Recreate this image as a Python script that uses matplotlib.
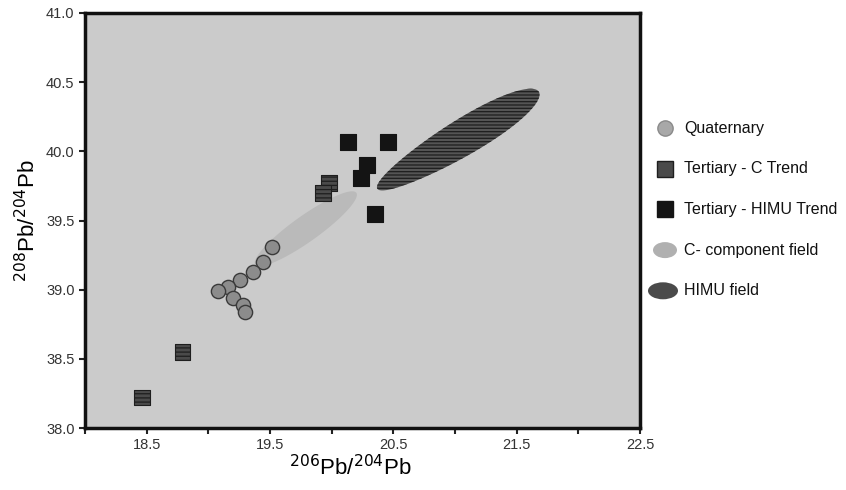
import numpy as np
import matplotlib
matplotlib.use("Agg")
import matplotlib.pyplot as plt
from matplotlib.patches import Polygon, Ellipse
from matplotlib.lines import Line2D

plt.rcParams['font.family'] = ['Liberation Sans', 'DejaVu Sans']
plt.rcParams['hatch.linewidth'] = 0.9

# Quaternary samples (206Pb/204Pb, 208Pb/204Pb)
quat_x = [19.52, 19.44, 19.36, 19.26, 19.16, 19.08, 19.20, 19.28, 19.30]
quat_y = [39.31, 39.20, 39.13, 39.07, 39.02, 38.99, 38.94, 38.89, 38.84]

# Tertiary - C trend
tc_x = [18.46, 18.79, 19.98, 19.93]
tc_y = [38.22, 38.55, 39.77, 39.70]

# Tertiary - HIMU trend
th_x = [20.13, 20.46, 20.29, 20.24, 20.35]
th_y = [40.07, 40.07, 39.90, 39.81, 39.55]

# fields: long-axis end points (x0, y0, x1, y1)
c_field = [19.38, 39.18, 20.20, 39.70]
himu_field = [20.37, 39.73, 21.68, 40.43]

xticks = [18.0, 18.5, 19.0, 19.5, 20.0, 20.5, 21.0, 21.5, 22.0, 22.5]
xlabels = ['', '18.5', '', '19.5', '', '20.5', '', '21.5', '', '22.5']
yticks = [38.0, 38.5, 39.0, 39.5, 40.0, 40.5, 41.0]

labels = ['Quaternary', 'Tertiary - C Trend', 'Tertiary - HIMU Trend',
          'C- component field', 'HIMU field']


def field_poly(ax, ends, width_px, fat=0.0):
    # ellipse built in pixel space, then mapped back to data units
    bb = ax.get_window_extent()
    sx = bb.width / (ax.get_xlim()[1] - ax.get_xlim()[0])
    sy = bb.height / (ax.get_ylim()[1] - ax.get_ylim()[0])
    x0, y0, x1, y1 = ends
    u0, v0, u1, v1 = x0 * sx, y0 * sy, x1 * sx, y1 * sy
    cu, cv = (u0 + u1) / 2, (v0 + v1) / 2
    a = np.hypot(u1 - u0, v1 - v0) / 2
    ang = np.arctan2(v1 - v0, u1 - u0)
    t = np.linspace(0, 2 * np.pi, 200)
    b = width_px / 2 * (1 + fat * np.cos(t))  # fatter at the upper end
    pu = a * np.cos(t)
    pv = b * np.sin(t)
    U = cu + pu * np.cos(ang) - pv * np.sin(ang)
    V = cv + pu * np.sin(ang) + pv * np.cos(ang)
    return np.column_stack([U / sx, V / sy])


fig = plt.figure(figsize=(8.46, 4.9), dpi=100)
ax = fig.add_axes([0.1005, 0.1265, 0.656, 0.847])
ax.set_facecolor('#cbcbcb')
ax.set_xlim(18.0, 22.5)
ax.set_ylim(38.0, 41.0)

cpoly = Polygon(field_poly(ax, c_field, 26), closed=True,
                facecolor='#bababa', edgecolor='none', zorder=1)
ax.add_patch(cpoly)
hpoly = Polygon(field_poly(ax, himu_field, 36, fat=0.15), closed=True,
                facecolor='#555555', edgecolor='#1e1e1e', linewidth=0,
                hatch='-----', zorder=2)
ax.add_patch(hpoly)

ax.scatter(quat_x, quat_y, s=105, marker='o', facecolor='#8c8c8c',
           edgecolor='#3a3a3a', linewidth=1.0, zorder=3)
ax.scatter(tc_x, tc_y, s=130, marker='s', facecolor='#4a4a4a',
           edgecolor='#1e1e1e', linewidth=0.8, hatch='----', zorder=4)
ax.scatter(th_x, th_y, s=130, marker='s', facecolor='#141414',
           edgecolor='#141414', linewidth=0.8, zorder=5)

for sp in ax.spines.values():
    sp.set_linewidth(2.5)
    sp.set_color('#111111')

ax.set_xticks(xticks)
ax.set_xticklabels(xlabels)
ax.set_yticks(yticks)
ax.set_yticklabels([f'{v:.1f}' for v in yticks])
ax.tick_params(direction='out', length=4, width=1.5, labelsize=10.5,
               labelcolor='#333333', color='#222222')

ax.set_xlabel(r'$^{206}$Pb/$^{204}$Pb', fontsize=16)
ax.xaxis.set_label_coords(0.478, -0.065)
ax.set_ylabel(r'$^{208}$Pb/$^{204}$Pb', fontsize=16, labelpad=4)

# legend drawn by hand, to the right of the frame
lx, tx = 665 / 846, 684 / 846
ly0, dy = 1 - 128 / 490, 40.7 / 490
leg_y = [ly0 - i * dy for i in range(len(labels))]
for y, lab in zip(leg_y, labels):
    fig.text(tx, y, lab, fontsize=11.5, color='#111111', va='center', ha='left')
fig.add_artist(Line2D([lx], [leg_y[0]], transform=fig.transFigure, marker='o',
                      markersize=11, markerfacecolor='#a8a8a8',
                      markeredgecolor='#8a8a8a', linestyle='none'))
fig.add_artist(Line2D([lx], [leg_y[1]], transform=fig.transFigure, marker='s',
                      markersize=11, markerfacecolor='#4a4a4a',
                      markeredgecolor='#1e1e1e', linestyle='none'))
fig.add_artist(Line2D([lx], [leg_y[2]], transform=fig.transFigure, marker='s',
                      markersize=11, markerfacecolor='#141414',
                      markeredgecolor='#141414', linestyle='none'))
fig.add_artist(Ellipse((lx, leg_y[3]), 24 / 846, 16 / 490,
                       transform=fig.transFigure, facecolor='#b0b0b0',
                       edgecolor='none'))
fig.add_artist(Ellipse((lx - 2 / 846, leg_y[4]), 30 / 846, 17 / 490,
                       transform=fig.transFigure, facecolor='#4a4a4a',
                       edgecolor='none'))

fig.savefig('out.png', dpi=100, facecolor='white')
